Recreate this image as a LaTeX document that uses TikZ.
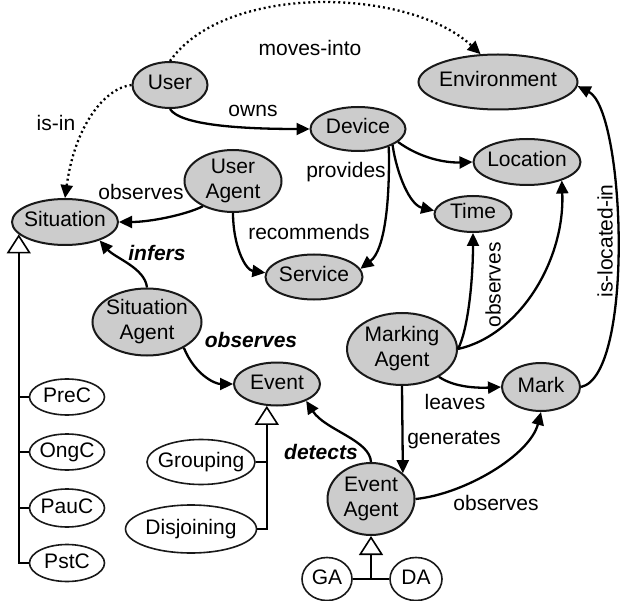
\documentclass[tikz,border=0pt]{standalone}
\usepackage{fontspec}
\setmainfont{Liberation Sans}
\usetikzlibrary{shapes.geometric,arrows.meta,calc}
\newcommand{\ctext}[1]{\makebox[0pt]{\vbox to 0pt{\vss\hbox{\begin{tabular}{@{}c@{}}#1\end{tabular}}\vss}}}
\begin{document}
\begin{tikzpicture}[x=1pt,y=-1pt,
  every node/.style={font=\fontsize{21}{25}\selectfont},
  gnode/.style={ellipse,draw=black!90,fill=gray!40,line width=2pt,inner sep=0pt},
  wnode/.style={ellipse,draw=black!90,fill=white,line width=1.6pt,inner sep=0pt},
  arr/.style={line width=2.3pt,-{Triangle[length=13pt,width=12pt]}},
  dotarr/.style={arr,dash pattern=on 2pt off 3pt},
  inh/.style={line width=1.6pt,-{Triangle[open,length=19pt,width=24pt]}},
  plain/.style={line width=1.6pt},
  lbl/.style={inner sep=0pt},
  blbl/.style={inner sep=0pt,font=\fontsize{21}{25}\selectfont\bfseries\itshape}]
\useasboundingbox (0,0) rectangle (623,601);
\fill[white] (0,0) rectangle (623,601);

% grey nodes
\node[gnode,minimum width=75pt,minimum height=46pt] (user) at (170,85) {\ctext{User}};
\node[gnode,minimum width=159pt,minimum height=55pt] (env) at (498,82) {\ctext{Environment}};
\node[gnode,minimum width=95pt,minimum height=44pt] (dev) at (358,129) {\ctext{Device}};
\node[gnode,minimum width=107pt,minimum height=46pt] (loc) at (527,162) {\ctext{Location}};
\node[gnode,minimum width=77pt,minimum height=36pt] (time) at (473,214) {\ctext{Time}};
\node[gnode,minimum width=97pt,minimum height=62pt] (ua) at (233,181) {\ctext{User\\Agent}};
\node[gnode,minimum width=106pt,minimum height=46pt] (sit) at (65,222) {\ctext{Situation}};
\node[gnode,minimum width=97pt,minimum height=45pt] (serv) at (314,277) {\ctext{Service}};
\node[gnode,minimum width=109pt,minimum height=67pt] (sa) at (147,322) {\ctext{Situation\\Agent}};
\node[gnode,minimum width=86pt,minimum height=43pt] (event) at (277,384) {\ctext{Event}};
\node[gnode,minimum width=110pt,minimum height=72pt] (ma) at (402,349) {\ctext{Marking\\Agent}};
\node[gnode,minimum width=78pt,minimum height=48pt] (mark) at (541,387) {\ctext{Mark}};
\node[gnode,minimum width=87pt,minimum height=72pt] (ea) at (371,499) {\ctext{Event\\Agent}};

% white nodes
\node[wnode,minimum width=75pt,minimum height=36pt] (prec) at (67,397) {\ctext{PreC}};
\node[wnode,minimum width=75pt,minimum height=36pt] (ongc) at (67,452) {\ctext{OngC}};
\node[wnode,minimum width=75pt,minimum height=38pt] (pauc) at (67,508) {\ctext{PauC}};
\node[wnode,minimum width=75pt,minimum height=37pt] (pstc) at (67,563) {\ctext{PstC}};
\node[wnode,minimum width=108pt,minimum height=45pt] (grp) at (201,462) {\ctext{Grouping}};
\node[wnode,minimum width=131pt,minimum height=48pt] (dis) at (191,529) {\ctext{Disjoining}};
\node[wnode,minimum width=50pt,minimum height=43pt] (ga) at (327,579) {\ctext{GA}};
\node[wnode,minimum width=52pt,minimum height=43pt] (da) at (416,579) {\ctext{DA}};

% connectors
\draw[dotarr] (user.north) .. controls (226,-18) and (410,-12) .. (env.122);
\draw[dotarr] (user.west) .. controls (105,88) and (75,125) .. (sit.north);
\draw[arr] (user.south) .. controls (180,125) and (240,129) .. (dev.west);
\draw[arr] (dev.-18) .. controls (420,158) and (445,163) .. (loc.west);
\draw[arr] (dev.-25) .. controls (397,175) and (410,205) .. (time.175);
\draw[arr] (dev.-30) .. controls (390,200) and (385,250) .. (serv.10);
\draw[arr] (ua.220) .. controls (185,215) and (150,222) .. (sit.east);
\draw[arr] (ua.south) .. controls (233,245) and (245,270) .. (serv.175);
\draw[arr] (sa.north) .. controls (145,268) and (115,258) .. (sit.-28);
\draw[arr] (sa.-35) .. controls (195,375) and (215,384) .. (event.west);
\draw[arr] (ea.north) .. controls (370,440) and (325,430) .. (event.-30);
\draw[arr] (ma.east) .. controls (468,330) and (473,280) .. (time.south);
\draw[arr] (ma.east) .. controls (520,335) and (565,260) .. (loc.-28);
\draw[arr] (ma.-37) .. controls (455,388) and (480,388) .. (mark.west);
\draw[arr] (ma.south) -- (ea.39);
\draw[arr] (ea.east) .. controls (465,494) and (530,455) .. (mark.south);
\draw[arr] (mark.east) .. controls (635,375) and (625,110) .. (env.-3);

% inheritance
\draw[plain] (prec.west) -- ++(-10.5,0);
\draw[plain] (ongc.west) -- ++(-10.5,0);
\draw[plain] (pauc.west) -- ++(-10.5,0);
\draw[inh] (pstc.west) -| (sit.195);
\draw[plain] (grp.east) -- ++(12,0);
\draw[inh] (dis.east) -| (event.245);
\draw[plain] (ga.east) -- (da.west);
\draw[inh] (ea.south |- ga.east) -- (ea.south);

% labels
\node[lbl] (lmoves) at (310,48) {moves-into};
\node[lbl] (lisin) at (56,123) {is-in};
\node[lbl] (lowns) at (253,111) {owns};
\node[lbl] (lprov) at (346,172) {provides};
\node[lbl] (lobs1) at (141,192) {observes};
\node[lbl] (lrec) at (309,232) {recommends};
\node[blbl] (linf) at (157,253) {infers};
\node[blbl] (lobs2) at (251,340) {observes};
\node[blbl] (ldet) at (321,452) {detects};
\node[lbl,rotate=90] (lobs3) at (493,285) {observes};
\node[lbl,rotate=90] (lisloc) at (605,241) {is-located-in};
\node[lbl] (lleaves) at (455,402) {leaves};
\node[lbl] (lgen) at (454,440) {generates};
\node[lbl] (lobs4) at (496,503) {observes};
\end{tikzpicture}
\end{document}
